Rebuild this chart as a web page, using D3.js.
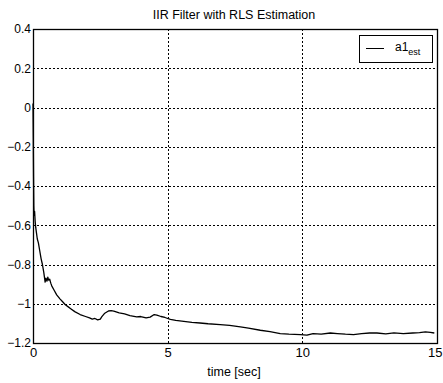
<!DOCTYPE html>
<html>
<head>
<meta charset="utf-8">
<script src="https://cdn.jsdelivr.net/npm/d3@7"></script>
<style>
  html, body { margin: 0; padding: 0; background: #fff; }
  svg { display: block; font-family: "Liberation Sans", Arial, sans-serif; }
</style>
</head>
<body>
<svg id="chart" width="443" height="383"></svg>
<script>
// RLS estimate of the IIR coefficient a1 over time
const timeSec = [
  0, 0.01, 0.02, 0.03, 0.04, 0.06, 0.08, 0.10, 0.13, 0.16, 0.20, 0.25, 0.30, 0.35,
  0.40, 0.45, 0.48, 0.52, 0.55, 0.58, 0.62, 0.66, 0.70, 0.78, 0.88, 1.0, 1.1, 1.2,
  1.31, 1.4, 1.55, 1.75, 1.95, 2.1, 2.2, 2.3, 2.4, 2.5, 2.55, 2.65, 2.8, 2.9, 3.0,
  3.2, 3.4, 3.6, 3.85, 4.0, 4.2, 4.35, 4.5, 4.6, 4.75, 4.9, 5.1, 5.3, 5.6, 5.9,
  6.2, 6.5, 6.95, 7.3, 7.7, 8.0, 8.44, 8.8, 9.18, 9.5, 9.93, 10.17, 10.4, 10.7,
  11.04, 11.3, 11.6, 11.9, 12.2, 12.5, 12.77, 13.1, 13.4, 13.75, 14.1, 14.35,
  14.57, 14.75, 14.9
];
const a1Est = [
  0.02, -0.15, -0.35, -0.50, -0.55, -0.53, -0.58, -0.61, -0.64, -0.67, -0.69, -0.73, -0.77, -0.80,
  -0.84, -0.89, -0.87, -0.885, -0.865, -0.88, -0.875, -0.895, -0.91, -0.93, -0.955, -0.975, -0.99, -1.005,
  -1.016, -1.025, -1.04, -1.055, -1.065, -1.072, -1.078, -1.075, -1.082, -1.078, -1.067, -1.05, -1.037, -1.035, -1.038,
  -1.047, -1.052, -1.06, -1.067, -1.065, -1.072, -1.068, -1.055, -1.058, -1.065, -1.07, -1.08, -1.085, -1.09, -1.095,
  -1.098, -1.102, -1.106, -1.11, -1.118, -1.124, -1.135, -1.142, -1.152, -1.155, -1.157, -1.16, -1.152, -1.155,
  -1.149, -1.152, -1.155, -1.157, -1.152, -1.149, -1.149, -1.153, -1.148, -1.152, -1.149, -1.147,
  -1.143, -1.146, -1.149
];
const xTicks = [0, 5, 10, 15];
const yTicks = [0.4, 0.2, 0, -0.2, -0.4, -0.6, -0.8, -1, -1.2];

const svg = d3.select("#chart");
const plot = { left: 33, right: 437, top: 29, bottom: 343 };

const x = d3.scaleLinear().domain([0, 15]).range([plot.left, plot.right]);
const y = d3.scaleLinear().domain([-1.2, 0.4]).range([plot.bottom, plot.top]);

// dotted grid
const grid = svg.append("g").attr("stroke", "#000").attr("stroke-width", 1)
  .attr("stroke-dasharray", "2,2");
grid.selectAll("line.gy").data(yTicks.filter(v => v > -1.2 && v < 0.4)).join("line")
  .attr("x1", plot.left).attr("x2", plot.right)
  .attr("y1", d => Math.round(y(d)) + 0.5).attr("y2", d => Math.round(y(d)) + 0.5);
grid.selectAll("line.gx").data(xTicks.filter(v => v > 0 && v < 15)).join("line")
  .attr("y1", plot.top).attr("y2", plot.bottom)
  .attr("x1", d => Math.round(x(d)) + 0.5).attr("x2", d => Math.round(x(d)) + 0.5);

// axes with tick labels
const xAxis = d3.axisBottom(x).tickValues(xTicks).tickSize(0).tickPadding(5)
  .tickFormat(d3.format("d"));
const yAxis = d3.axisLeft(y).tickValues(yTicks).tickSize(0).tickPadding(2)
  .tickFormat(d => d === 0 ? "0" : (Number.isInteger(d) ? d3.format("d")(d) : d3.format(".1f")(d)));

const gx = svg.append("g").attr("transform", `translate(0,${plot.bottom})`).call(xAxis);
const gy = svg.append("g").attr("transform", `translate(${plot.left},0)`).call(yAxis);
[gx, gy].forEach(g => {
  g.select(".domain").remove();
  g.selectAll("text").attr("font-size", 12).attr("fill", "#000")
    .attr("font-family", "'Liberation Sans', Arial, sans-serif");
});
gx.selectAll("text").attr("font-size", 13);
// keep the last x label inside the page edge
gx.selectAll(".tick").filter(d => d === 15).select("text")
  .attr("text-anchor", "end").attr("x", 442 - x(15));

// data line
const line = d3.line().x((d, i) => x(timeSec[i])).y(d => y(d));
svg.append("path").datum(a1Est)
  .attr("d", line)
  .attr("fill", "none").attr("stroke", "#000").attr("stroke-width", 1.3)
  .attr("stroke-linejoin", "round");

// frame
svg.append("rect")
  .attr("x", plot.left + 0.5).attr("y", plot.top + 0.5)
  .attr("width", plot.right - plot.left).attr("height", plot.bottom - plot.top)
  .attr("fill", "none").attr("stroke", "#000").attr("stroke-width", 1.3);

// title and axis label
svg.append("text").attr("x", 234).attr("y", 19).attr("text-anchor", "middle")
  .attr("font-size", 12.5).text("IIR Filter with RLS Estimation");
svg.append("text").attr("x", 234).attr("y", 376).attr("text-anchor", "middle")
  .attr("font-size", 12.5).text("time [sec]");

// legend
const lg = svg.append("g");
lg.append("rect").attr("x", 359.5).attr("y", 35.5).attr("width", 73).attr("height", 27)
  .attr("fill", "#fff").attr("stroke", "#000").attr("stroke-width", 1);
lg.append("line").attr("x1", 366).attr("x2", 384).attr("y1", 48.5).attr("y2", 48.5)
  .attr("stroke", "#000").attr("stroke-width", 1);
const lt = lg.append("text").attr("x", 395).attr("y", 51).attr("font-size", 12);
lt.append("tspan").text("a1");
lt.append("tspan").attr("dy", 4).attr("font-size", 9).text("est");
</script>
</body>
</html>
